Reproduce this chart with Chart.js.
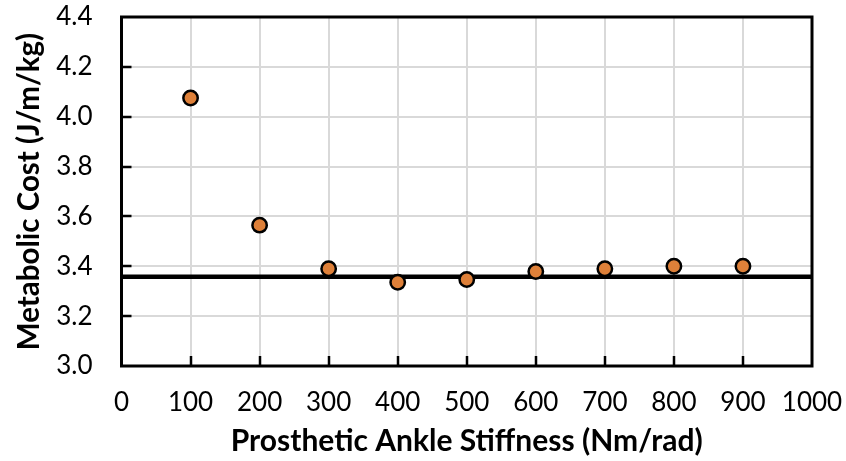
<!DOCTYPE html>
<html>
<head>
<meta charset="utf-8">
<script src="https://cdn.jsdelivr.net/npm/chart.js@4/dist/chart.umd.min.js"></script>
<style>
html,body{margin:0;padding:0;background:#fff;}
#wrap{width:846px;height:461px;}
</style>
</head>
<body>
<div id="wrap"><canvas id="c" width="846" height="461"></canvas></div>
<script>
const stiffness = [100, 200, 300, 400, 500, 600, 700, 800, 900];
const metabolicCost = [4.075, 3.565, 3.390, 3.336, 3.347, 3.379, 3.390, 3.400, 3.400];
const referenceLevel = 3.358;
const xRange = [0, 1000];
const yRange = [3.0, 4.4];
const xTitle = 'Prosthetic Ankle Stiffness (Nm/rad)';
const yTitle = 'Metabolic Cost (J/m/kg)';

const FONT = 'Lato, "Open Sans", sans-serif';

const boxPlugin = {
  id: 'boxTicks',
  afterDraw(chart) {
    const {ctx, chartArea: a, scales} = chart;
    ctx.save();
    ctx.strokeStyle = '#000';
    ctx.lineWidth = 2.5;
    ctx.beginPath();
    scales.y.ticks.forEach(t => {
      if (t.value <= yRange[0] + 1e-9 || t.value >= yRange[1] - 1e-9) return;
      const py = Math.round(scales.y.getPixelForValue(t.value));
      ctx.moveTo(a.left, py);
      ctx.lineTo(a.left + 10, py);
    });
    scales.x.ticks.forEach(t => {
      if (t.value <= xRange[0] || t.value >= xRange[1]) return;
      const px = Math.round(scales.x.getPixelForValue(t.value));
      ctx.moveTo(px, a.bottom);
      ctx.lineTo(px, a.bottom - 10);
    });
    ctx.stroke();
    ctx.lineWidth = 3;
    ctx.strokeRect(a.left, a.top, a.right - a.left, a.bottom - a.top);
    ctx.restore();
  }
};

new Chart(document.getElementById('c'), {
  type: 'scatter',
  data: {
    datasets: [
      {
        label: 'Metabolic cost',
        data: stiffness.map((s, i) => ({x: s, y: metabolicCost[i]})),
        backgroundColor: '#DE8039',
        borderColor: '#000',
        borderWidth: 2.5,
        pointRadius: 7.2,
        pointHoverRadius: 7.2,
        order: 0
      },
      {
        type: 'line',
        label: 'Reference',
        data: xRange.map(x => ({x: x, y: referenceLevel})),
        borderColor: '#000',
        borderWidth: 4.5,
        pointRadius: 0,
        fill: false,
        order: 1
      }
    ]
  },
  plugins: [boxPlugin],
  options: {
    responsive: false,
    animation: false,
    devicePixelRatio: 1,
    layout: {padding: {top: 17, right: 34, left: 0, bottom: 0}},
    plugins: {legend: {display: false}, tooltip: {enabled: false}},
    scales: {
      x: {
        type: 'linear',
        min: xRange[0], max: xRange[1],
        ticks: {stepSize: 100, color: '#000', font: {family: FONT, size: 26}, padding: 21, maxRotation: 0, autoSkip: false, callback: v => String(v)},
        grid: {color: '#d9d9d9', lineWidth: 2, drawTicks: false},
        border: {display: false},
        title: {display: true, text: xTitle, color: '#000', font: {family: FONT, size: 30, weight: 'bold'}, padding: {top: 0, bottom: 2}},
        afterFit(s) { s.height = 95; s.paddingLeft = 0; s.paddingRight = 0; }
      },
      y: {
        type: 'linear',
        min: yRange[0], max: yRange[1],
        ticks: {stepSize: 0.2, color: '#000', font: {family: FONT, size: 26}, padding: 29, callback: v => v.toFixed(1)},
        grid: {color: '#d9d9d9', lineWidth: 2, drawTicks: false},
        border: {display: false},
        title: {display: true, text: yTitle, color: '#000', font: {family: FONT, size: 29.5, weight: 'bold'}, padding: {top: 12, bottom: 0}},
        afterFit(s) { s.width = 121.5; s.paddingTop = 0; s.paddingBottom = 0; }
      }
    }
  }
});
</script>
</body>
</html>
